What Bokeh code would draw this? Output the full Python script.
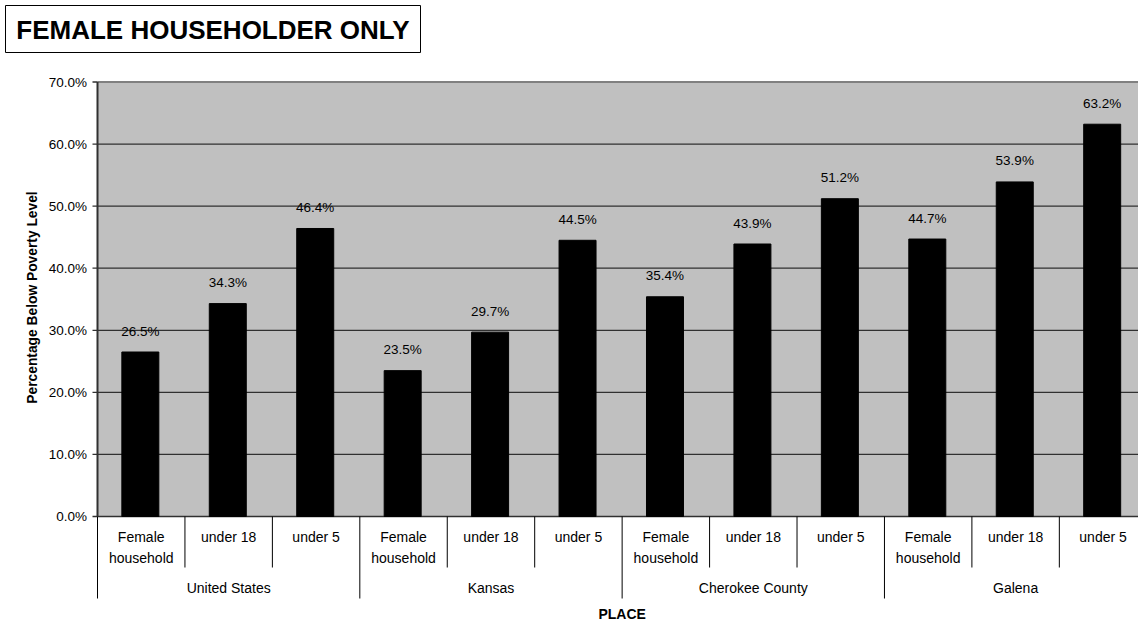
import math
from bokeh.plotting import figure
from bokeh.models import Range1d
from bokeh.core.properties import value
from bokeh.embed import file_html
from bokeh.resources import INLINE

# ---- data ----
places = ["United States", "Kansas", "Cherokee County", "Galena"]
subgroups = ["Female\nhousehold", "under 18", "under 5"]
us_vals = [26.5, 34.3, 46.4]
kansas_vals = [23.5, 29.7, 44.5]
cherokee_vals = [35.4, 43.9, 51.2]
galena_vals = [44.7, 53.9, 63.2]
y_ticks = [0, 10, 20, 30, 40, 50, 60, 70]
y_tick_labels = ["0.0%", "10.0%", "20.0%", "30.0%", "40.0%", "50.0%", "60.0%", "70.0%"]
title_text = "FEMALE HOUSEHOLDER ONLY"
y_title = "Percentage Below Poverty Level"
x_title = "PLACE"

series = [us_vals, kansas_vals, cherokee_vals, galena_vals]
values = [v for s in series for v in s]
n_sub = len(subgroups)
n = len(values)

# ---- layout (pixels -> data mapping) ----
W, H = 1138, 620
x0_px = 97.0
slot_px = 87.44
zero_px = 516.0
ppu = (516.0 - 81.5) / 70.0

def dx(px):
    return (px - x0_px) / slot_px

def dy(py):
    return (zero_px - py) / ppu

FONT = "Liberation Sans"

p = figure(width=W, height=H, output_backend="svg", toolbar_location=None,
           x_range=Range1d(dx(0), dx(W)), y_range=Range1d(dy(H), dy(0)),
           x_axis_location=None, y_axis_location=None,
           min_border_left=0, min_border_right=0,
           min_border_top=0, min_border_bottom=0)
p.outline_line_color = None
p.background_fill_color = "white"
p.border_fill_color = "white"
p.xgrid.visible = False
p.ygrid.visible = False

# plot area background
p.quad(left=[0], right=[n], bottom=[0], top=[y_ticks[-1]], fill_color="#C0C0C0",
       line_color=None)

# gridlines
grid_vals = y_ticks[:-1]
p.segment(x0=[0] * len(grid_vals), y0=grid_vals, x1=[n] * len(grid_vals),
          y1=grid_vals, line_color="#303030", line_width=1.3)

# plot border top and left axis line
p.segment(x0=[0], y0=[y_ticks[-1]], x1=[n], y1=[y_ticks[-1]],
          line_color="#808080", line_width=2)
p.segment(x0=[0], y0=[0], x1=[0], y1=[y_ticks[-1]], line_color="#303030",
          line_width=2)

# y ticks and tick labels
p.segment(x0=[dx(92)] * len(y_ticks), y0=y_ticks, x1=[0] * len(y_ticks),
          y1=y_ticks, line_color="#303030", line_width=1.3)
p.text(x=[dx(86.5)] * len(y_ticks), y=y_ticks, text=y_tick_labels,
       text_align="right", text_baseline="middle", text_font=value(FONT),
       text_font_size="13.5px", text_color="black")

# bars
centers = [i + 0.5 - 0.01 for i in range(n)]
p.vbar(x=centers, top=values, width=0.423, bottom=0, fill_color="black",
       line_color="black")

# value labels
p.text(x=centers, y=values, text=[f"{v:.1f}%" for v in values],
       text_align="center", text_baseline="middle", y_offset=-21,
       text_font=value(FONT), text_font_size="13.5px", text_color="black")

# category labels (level 1)
sub_x = [i + 0.5 for i in range(n)]
sub_text = [subgroups[i % n_sub] for i in range(n)]
p.text(x=sub_x, y=[dy(528)] * n, text=sub_text, text_align="center",
       text_baseline="top", text_line_height=1.36,
       text_font=value(FONT), text_font_size="14px", text_color="black")

# group labels (level 2)
grp_x = [g * n_sub + n_sub / 2 for g in range(len(places))]
p.text(x=grp_x, y=[dy(587)] * len(places), text=places, text_align="center",
       text_baseline="middle", text_font=value(FONT), text_font_size="14px",
       text_color="black")

# separators
inner = [i for i in range(n) if i % n_sub != 0]
outer = [g * n_sub for g in range(len(places) + 1)]
p.segment(x0=inner, y0=[0] * len(inner), x1=inner, y1=[dy(567)] * len(inner),
          line_color="black", line_width=1)
p.segment(x0=outer, y0=[0] * len(outer), x1=outer, y1=[dy(598)] * len(outer),
          line_color="black", line_width=1)

# x title
p.text(x=[n / 2], y=[dy(613)], text=[x_title], text_align="center",
       text_baseline="middle", text_font=value(FONT), text_font_size="14px",
       text_font_style="bold", text_color="black")

# y title
p.text(x=[dx(32)], y=[dy(297)], text=[y_title], angle=math.pi / 2,
       text_align="center", text_baseline="middle", text_font=value(FONT),
       text_font_size="13.8px", text_font_style="bold", text_color="black")

# chart title in a box
p.quad(left=[dx(5)], right=[dx(420)], top=[dy(5)], bottom=[dy(52)],
       fill_color="white", line_color="black", line_width=1)
p.text(x=[dx(212.5)], y=[dy(29)], text=[title_text], text_align="center",
       text_baseline="middle", text_font=value(FONT), text_font_size="26px",
       text_font_style="bold", text_color="black")

open("out.html", "w").write(file_html(p, INLINE))
